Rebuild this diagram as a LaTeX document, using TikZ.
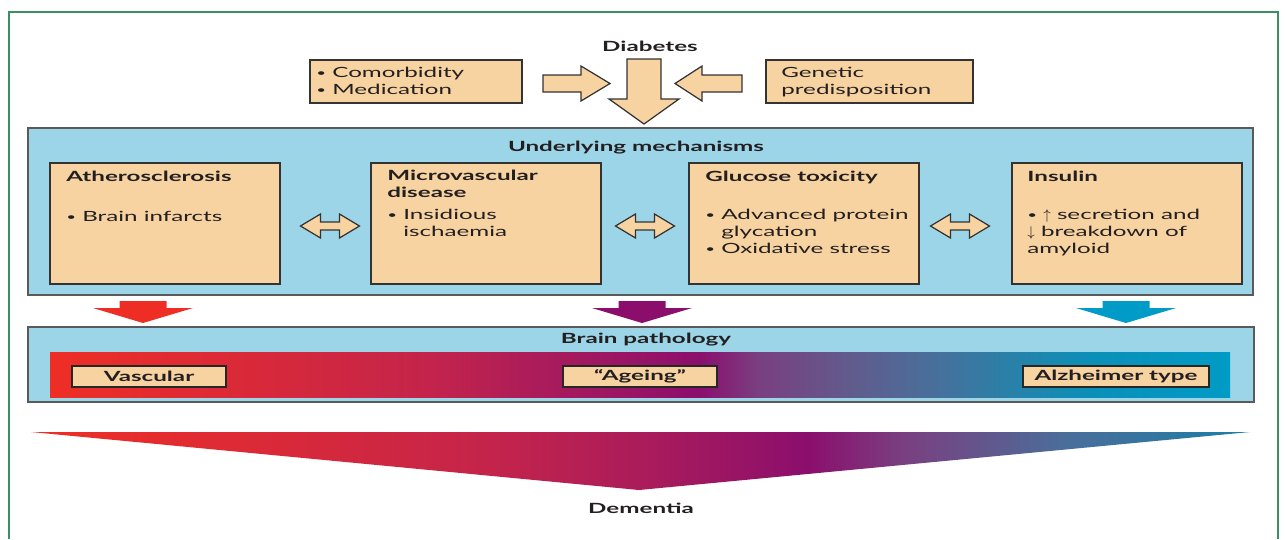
\documentclass[tikz,border=0pt]{standalone}
\usepackage{fontspec}
\setmainfont{Lato}[FakeStretch=1.72]
\usepackage{graphicx}
\usepackage{tikz}
\definecolor{peach}{RGB}{248,211,162}
\definecolor{mechblue}{RGB}{157,213,232}
\definecolor{framegreen}{RGB}{59,143,99}
\definecolor{edgegray}{RGB}{90,90,90}
\definecolor{txt}{RGB}{35,31,32}
\definecolor{vred}{RGB}{238,46,37}
\definecolor{vpurple}{RGB}{139,14,109}
\definecolor{vblue}{RGB}{0,155,198}
%渐变颜色
\definecolor{ga}{RGB}{238,46,37}
\definecolor{gb}{RGB}{220,42,54}
\definecolor{gc}{RGB}{196,36,75}
\definecolor{gd}{RGB}{168,27,92}
\definecolor{ge}{RGB}{139,14,109}
\definecolor{gf}{RGB}{122,63,128}
\definecolor{gg}{RGB}{98,90,140}
\definecolor{gh}{RGB}{74,110,154}
\definecolor{gi}{RGB}{42,128,168}
\definecolor{gj}{RGB}{10,144,184}
\definecolor{gk}{RGB}{0,155,198}
\definecolor{tk}{RGB}{26,127,166}
\pgfdeclarehorizontalshading{pathoshade}{100bp}{color(0bp)=(ga); color(25bp)=(ga);
  color(32.35bp)=(gb); color(41bp)=(gc); color(46.25bp)=(gd); color(52.5bp)=(ge);
  color(55bp)=(gf); color(58.75bp)=(gg); color(62.2bp)=(gh); color(65.5bp)=(gi);
  color(69.2bp)=(gj); color(75bp)=(gk); color(100bp)=(gk)}
\pgfdeclarehorizontalshading{dementiashade}{100bp}{color(0bp)=(ga); color(25bp)=(ga);
  color(33.8bp)=(gb); color(43.9bp)=(gc); color(50.65bp)=(gd); color(56.85bp)=(ge);
  color(60.75bp)=(gf); color(67.45bp)=(gh); color(75bp)=(tk); color(100bp)=(tk)}
\newcommand{\bul}{\raisebox{0.12ex}{\scalebox{0.7}{•}}}
\tikzset{
  mechbox/.style={draw=edgegray,line width=1.1pt,fill=mechblue},
  itembox/.style={draw=black!80,line width=0.7pt,fill=peach},
  blockarr/.style={draw=black!80,line width=0.7pt,fill=peach,line join=miter},
  txtnode/.style={inner sep=0pt,anchor=north west,align=left,text=txt,
    font=\fontsize{8}{9.64}\selectfont,execute at begin node=\strut},
  headtxt/.style={inner sep=0pt,anchor=base,text=txt,font=\fontsize{8}{9.64}\selectfont\bfseries},
  tagbox/.style={draw=black!85,line width=0.8pt,fill=peach,inner sep=0pt,
    minimum height=0.42cm,text=txt,font=\fontsize{8}{9.64}\selectfont\bfseries}
}

\begin{document}
\begin{tikzpicture}[x=0.02cm,y=-0.02cm]
        \useasboundingbox (0,0) rectangle (1285,539);
        %外框
        \draw[framegreen,line width=1.4pt] (9,539) -- (9,12) -- (1278,12) -- (1278,539);
        %糖尿病及其影响因素
        \node[headtxt] (diab) at (650,51) {Diabetes};
        \draw[itembox] (310,60) rectangle (522,103);
        \node[txtnode] (comorb) at (316,67) {\bul\ Comorbidity\\\bul\ Medication};
        \draw[itembox] (766,60) rectangle (973,103);
        \node[txtnode] (genetic) at (781,67) {Genetic\\predisposition};
        \draw[blockarr] (543,75) -- (581,75) -- (581,66) -- (610,83.5) -- (581,101) -- (581,92) -- (543,92) -- cycle;
        \draw[blockarr] (742,75) -- (702,75) -- (702,66) -- (675,83.5) -- (702,101) -- (702,92) -- (742,92) -- cycle;
        \draw[blockarr] (627,59) -- (661,59) -- (661,99) -- (679,99) -- (644,124) -- (609,99) -- (627,99) -- cycle;
        %机制
        \draw[mechbox] (28,128) rectangle (1253,295);
        \node[headtxt] (mechtitle) at (636,151) {Underlying mechanisms};
        \foreach \x in {50,371,689,1012}
                \draw[itembox] (\x,163) rectangle ({\x+230},284);
        \node[txtnode,font=\fontsize{8}{9.64}\selectfont\bfseries] (athero) at (66,169) {Atherosclerosis};
        \node[txtnode] (atheroitems) at (66,209) {\bul\ Brain infarcts};
        \node[txtnode,font=\fontsize{8}{9.64}\selectfont\bfseries] (micro) at (387,170) {Microvascular\\disease};
        \node[txtnode] (microitems) at (387,209) {\bul\ Insidious\\\phantom{\bul\ }ischaemia};
        \node[txtnode,font=\fontsize{8}{9.64}\selectfont\bfseries] (gluc) at (705,169) {Glucose toxicity};
        \node[txtnode] (glucitems) at (705,209) {\bul\ Advanced protein\\\phantom{\bul\ }glycation\\\bul\ Oxidative stress};
        \node[txtnode,font=\fontsize{8}{9.64}\selectfont\bfseries] (insul) at (1027,169) {Insulin};
        \node[txtnode] (insulitems) at (1027,209) {\bul\ $\uparrow$ secretion and\\$\downarrow$ breakdown of\\amyloid};
        %双向箭头
        \foreach \c in {330,645,960}
                \draw[blockarr] ({\c-29.5},226) -- ({\c-9.5},214) -- ({\c-9.5},222) -- ({\c+9.5},222) -- ({\c+9.5},214)
                        -- ({\c+29.5},226) -- ({\c+9.5},238) -- ({\c+9.5},230) -- ({\c-9.5},230) -- ({\c-9.5},238) -- cycle;
        %彩色箭头
        \foreach \c/\col in {143/vred,642/vpurple,1126/vblue}
                \fill[\col] ({\c-23.5},301) -- ({\c+23.5},301) -- ({\c+23.5},308) -- ({\c+50},308) -- (\c,323)
                        -- ({\c-50},308) -- ({\c-23.5},308) -- cycle;
        %脑病理
        \draw[mechbox] (28,327) rectangle (1254,402);
        \node[headtxt] (pathtitle) at (646,343) {Brain pathology};
        \shade[shading=pathoshade] (50,352) rectangle (1230,397);
        \node[tagbox,minimum width=3.08cm] (vasc) at (149,376.5) {Vascular};
        \node[tagbox,minimum width=3.08cm] (ageing) at (640,376.5) {“Ageing”};
        \node[tagbox,minimum width=3.72cm] (alz) at (1116,376.5) {Alzheimer type};
        %痴呆
        \shade[shading=dementiashade] (31,432) -- (1250,432) -- (639,490) -- cycle;
        \node[headtxt] (dement) at (641,513) {Dementia};
\end{tikzpicture}
\end{document}
